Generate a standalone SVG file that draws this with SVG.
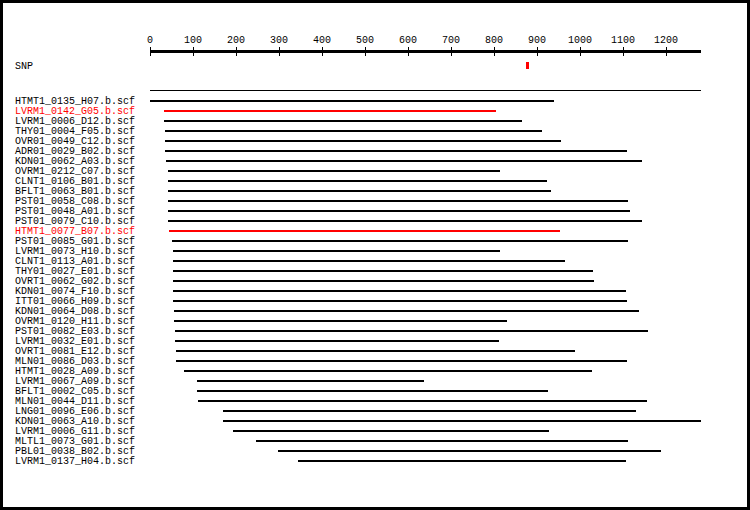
<svg xmlns="http://www.w3.org/2000/svg" width="750" height="510" viewBox="0 0 750 510">
<style>
text{font-family:"Liberation Mono","DejaVu Sans Mono",monospace;font-size:10px;fill:#000}
.r text{fill:#ff0000}
.bar{stroke:#000;stroke-width:2}
.r .bar{stroke:#ff0000}
.tick{stroke:#000;stroke-width:1}
.ax text{text-anchor:middle}
</style>
<rect x="1.5" y="1.5" width="747" height="507" fill="#fff" stroke="#000" stroke-width="3"/>
<g id="axis" class="ax">
<rect x="150" y="50" width="551" height="3" fill="#000"/>
<g class="tick">
<line x1="150.5" y1="47" x2="150.5" y2="56"/><line x1="193.5" y1="47" x2="193.5" y2="56"/><line x1="236.5" y1="47" x2="236.5" y2="56"/><line x1="279.5" y1="47" x2="279.5" y2="56"/><line x1="322.5" y1="47" x2="322.5" y2="56"/><line x1="365.5" y1="47" x2="365.5" y2="56"/><line x1="408.5" y1="47" x2="408.5" y2="56"/><line x1="451.5" y1="47" x2="451.5" y2="56"/><line x1="494.5" y1="47" x2="494.5" y2="56"/><line x1="537.5" y1="47" x2="537.5" y2="56"/><line x1="580.5" y1="47" x2="580.5" y2="56"/><line x1="623.5" y1="47" x2="623.5" y2="56"/><line x1="666.5" y1="47" x2="666.5" y2="56"/>
</g>
<text x="150" y="43">0</text><text x="193" y="43">100</text><text x="236" y="43">200</text><text x="279" y="43">300</text><text x="322" y="43">400</text><text x="365" y="43">500</text><text x="408" y="43">600</text><text x="451" y="43">700</text><text x="494" y="43">800</text><text x="537" y="43">900</text><text x="580" y="43">1000</text><text x="623" y="43">1100</text><text x="666" y="43">1200</text>
</g>
<g id="snp">
<text x="15" y="69">SNP</text>
<rect x="526" y="62" width="3" height="7" fill="#ff0000"/>
</g>
<g id="reference">
<line x1="150" y1="90.5" x2="701" y2="90.5" stroke="#000" stroke-width="1"/>
</g>
<g id="connectors"></g>
<g id="n1"><text x="15" y="104">HTMT1_0135_H07.b.scf</text><line class="bar" x1="150" y1="101" x2="554" y2="101"/></g>
<g id="n2" class="r"><text x="15" y="114">LVRM1_0142_G05.b.scf</text><line class="bar" x1="164" y1="111" x2="496" y2="111"/></g>
<g id="n3"><text x="15" y="124">LVRM1_0006_D12.b.scf</text><line class="bar" x1="164" y1="121" x2="522" y2="121"/></g>
<g id="n4"><text x="15" y="134">THY01_0004_F05.b.scf</text><line class="bar" x1="165" y1="131" x2="542" y2="131"/></g>
<g id="n5"><text x="15" y="144">OVR01_0049_C12.b.scf</text><line class="bar" x1="165" y1="141" x2="561" y2="141"/></g>
<g id="n6"><text x="15" y="154">ADR01_0029_B02.b.scf</text><line class="bar" x1="165" y1="151" x2="627" y2="151"/></g>
<g id="n7"><text x="15" y="164">KDN01_0062_A03.b.scf</text><line class="bar" x1="166" y1="161" x2="642" y2="161"/></g>
<g id="n8"><text x="15" y="174">OVRM1_0212_C07.b.scf</text><line class="bar" x1="168" y1="171" x2="500" y2="171"/></g>
<g id="n9"><text x="15" y="184">CLNT1_0106_B01.b.scf</text><line class="bar" x1="168" y1="181" x2="547" y2="181"/></g>
<g id="n10"><text x="15" y="194">BFLT1_0063_B01.b.scf</text><line class="bar" x1="168" y1="191" x2="551" y2="191"/></g>
<g id="n11"><text x="15" y="204">PST01_0058_C08.b.scf</text><line class="bar" x1="168" y1="201" x2="628" y2="201"/></g>
<g id="n12"><text x="15" y="214">PST01_0048_A01.b.scf</text><line class="bar" x1="168" y1="211" x2="630" y2="211"/></g>
<g id="n13"><text x="15" y="224">PST01_0079_C10.b.scf</text><line class="bar" x1="168" y1="221" x2="642" y2="221"/></g>
<g id="n14" class="r"><text x="15" y="234">HTMT1_0077_B07.b.scf</text><line class="bar" x1="169" y1="231" x2="560" y2="231"/></g>
<g id="n15"><text x="15" y="244">PST01_0085_G01.b.scf</text><line class="bar" x1="172" y1="241" x2="628" y2="241"/></g>
<g id="n16"><text x="15" y="254">LVRM1_0073_H10.b.scf</text><line class="bar" x1="173" y1="251" x2="500" y2="251"/></g>
<g id="n17"><text x="15" y="264">CLNT1_0113_A01.b.scf</text><line class="bar" x1="173" y1="261" x2="565" y2="261"/></g>
<g id="n18"><text x="15" y="274">THY01_0027_E01.b.scf</text><line class="bar" x1="173" y1="271" x2="593" y2="271"/></g>
<g id="n19"><text x="15" y="284">OVRT1_0062_G02.b.scf</text><line class="bar" x1="173" y1="281" x2="594" y2="281"/></g>
<g id="n20"><text x="15" y="294">KDN01_0074_F10.b.scf</text><line class="bar" x1="173" y1="291" x2="626" y2="291"/></g>
<g id="n21"><text x="15" y="304">ITT01_0066_H09.b.scf</text><line class="bar" x1="173" y1="301" x2="627" y2="301"/></g>
<g id="n22"><text x="15" y="314">KDN01_0064_D08.b.scf</text><line class="bar" x1="174" y1="311" x2="639" y2="311"/></g>
<g id="n23"><text x="15" y="324">OVRM1_0120_H11.b.scf</text><line class="bar" x1="174" y1="321" x2="507" y2="321"/></g>
<g id="n24"><text x="15" y="334">PST01_0082_E03.b.scf</text><line class="bar" x1="175" y1="331" x2="648" y2="331"/></g>
<g id="n25"><text x="15" y="344">LVRM1_0032_E01.b.scf</text><line class="bar" x1="175" y1="341" x2="499" y2="341"/></g>
<g id="n26"><text x="15" y="354">OVRT1_0081_E12.b.scf</text><line class="bar" x1="176" y1="351" x2="575" y2="351"/></g>
<g id="n27"><text x="15" y="364">MLN01_0086_D03.b.scf</text><line class="bar" x1="176" y1="361" x2="627" y2="361"/></g>
<g id="n28"><text x="15" y="374">HTMT1_0028_A09.b.scf</text><line class="bar" x1="184" y1="371" x2="592" y2="371"/></g>
<g id="n29"><text x="15" y="384">LVRM1_0067_A09.b.scf</text><line class="bar" x1="197" y1="381" x2="424" y2="381"/></g>
<g id="n30"><text x="15" y="394">BFLT1_0002_C05.b.scf</text><line class="bar" x1="197" y1="391" x2="548" y2="391"/></g>
<g id="n31"><text x="15" y="404">MLN01_0044_D11.b.scf</text><line class="bar" x1="198" y1="401" x2="647" y2="401"/></g>
<g id="n32"><text x="15" y="414">LNG01_0096_E06.b.scf</text><line class="bar" x1="223" y1="411" x2="636" y2="411"/></g>
<g id="n33"><text x="15" y="424">KDN01_0063_A10.b.scf</text><line class="bar" x1="223" y1="421" x2="701" y2="421"/></g>
<g id="n34"><text x="15" y="434">LVRM1_0006_G11.b.scf</text><line class="bar" x1="233" y1="431" x2="549" y2="431"/></g>
<g id="n35"><text x="15" y="444">MLTL1_0073_G01.b.scf</text><line class="bar" x1="256" y1="441" x2="628" y2="441"/></g>
<g id="n36"><text x="15" y="454">PBL01_0038_B02.b.scf</text><line class="bar" x1="278" y1="451" x2="661" y2="451"/></g>
<g id="n37"><text x="15" y="464">LVRM1_0137_H04.b.scf</text><line class="bar" x1="298" y1="461" x2="626" y2="461"/></g>
</svg>
